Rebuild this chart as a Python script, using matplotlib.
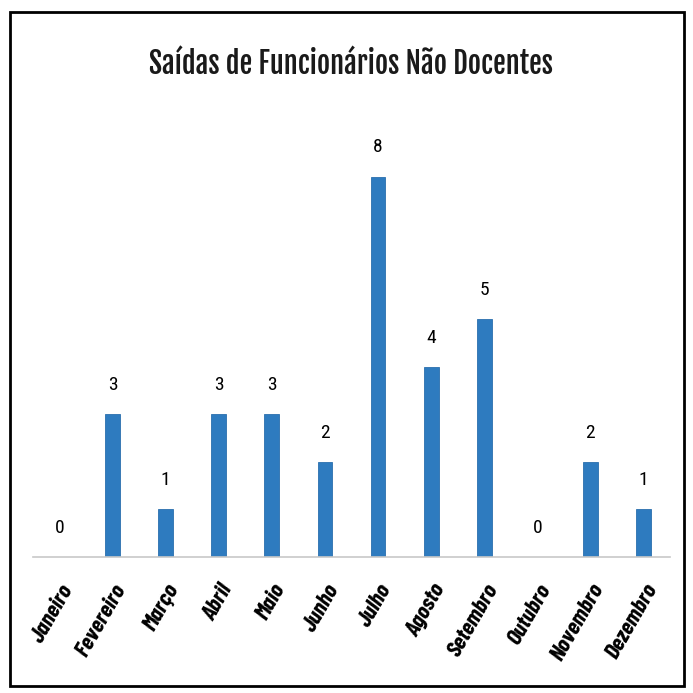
import matplotlib
matplotlib.use("Agg")
import matplotlib.pyplot as plt
import matplotlib.transforms as mtransforms
from matplotlib.patches import Rectangle
from matplotlib import font_manager
from matplotlib.font_manager import FontProperties

months = ["Janeiro", "Fevereiro", "Março", "Abril", "Maio", "Junho", "Julho",
          "Agosto", "Setembro", "Outubro", "Novembro", "Dezembro"]
values = [0, 3, 1, 3, 3, 2, 8, 4, 5, 0, 2, 1]
title = "Saídas de Funcionários Não Docentes"

fonts = font_manager.fontManager.ttflist
names = {f.name for f in fonts}


def pick(cands):
    for c in cands:
        if c in names:
            return dict(family=[c, "DejaVu Sans"])
    return dict(family="DejaVu Sans", fontstretch="condensed")


def pick_file(cands, size, fallback_style="normal"):
    for c, weight, style in cands:
        for f in fonts:
            if f.name == c and f.style == style and int(f.weight) == weight:
                return FontProperties(fname=f.fname, size=size)
    return FontProperties(family="DejaVu Sans", stretch="condensed",
                          weight="bold", style=fallback_style, size=size)


title_fp = pick_file([("Liberation Sans Narrow", 700, "normal"),
                      ("Arial Narrow", 700, "normal"),
                      ("Oswald", 700, "normal"),
                      ("Fjalla One", 400, "normal"),
                      ("Antonio", 700, "normal"),
                      ("Barlow Condensed", 700, "normal"),
                      ("Roboto Condensed", 700, "normal")], 26)
value_fam = pick(["Roboto Condensed", "Barlow Semi Condensed", "Archivo Narrow"])
label_fp = pick_file([("Liberation Sans Narrow", 700, "italic"),
                      ("Arial Narrow", 700, "italic"),
                      ("Barlow Condensed", 700, "italic"),
                      ("Roboto Condensed", 700, "italic")], 17, "italic")

W = H = 693
fig = plt.figure(figsize=(6.93, 6.93), dpi=100)
ax = fig.add_axes([33 / W, 1 - 557 / H, (670 - 33) / W, (557 - 129) / H])

x = range(len(months))
ax.bar(x, values, width=0.28, color="#2E7BBF", edgecolor="#2A6FAD", linewidth=0.6)
ax.set_xlim(-0.5, 11.5)
ax.set_ylim(0, 9)

for xi, v in zip(x, values):
    ax.annotate(str(v), (xi, v), xytext=(0, 21), textcoords="offset points",
                ha="center", va="center", fontsize=14, **value_fam)

ax.set_xticks(list(x))
labels = ax.set_xticklabels(months, rotation=60, ha="right", rotation_mode="anchor",
                            fontproperties=label_fp)
offset = mtransforms.ScaledTranslation(-2 / 100, 0, fig.dpi_scale_trans)
for lab in labels:
    lab.set_transform(lab.get_transform() + offset)
ax.tick_params(axis="x", length=0, pad=17)
ax.set_yticks([])
for s in ["top", "right", "left"]:
    ax.spines[s].set_visible(False)
ax.spines["bottom"].set_color("#C8C8C8")
ax.spines["bottom"].set_linewidth(1.2)

t = fig.text(351 / W, 1 - 64 / H, title, ha="center", va="center",
             fontproperties=title_fp, color="#1a1a1a")
fig.canvas.draw()
wpx = t.get_window_extent().width
t.set_fontsize(26 * 404 / wpx)

fig.patches.append(Rectangle((10 / W, 1 - 686 / H), (684 - 10) / W, (686 - 12) / H,
                             transform=fig.transFigure, fill=False,
                             edgecolor="black", linewidth=2))

fig.savefig("out.png", dpi=100)
